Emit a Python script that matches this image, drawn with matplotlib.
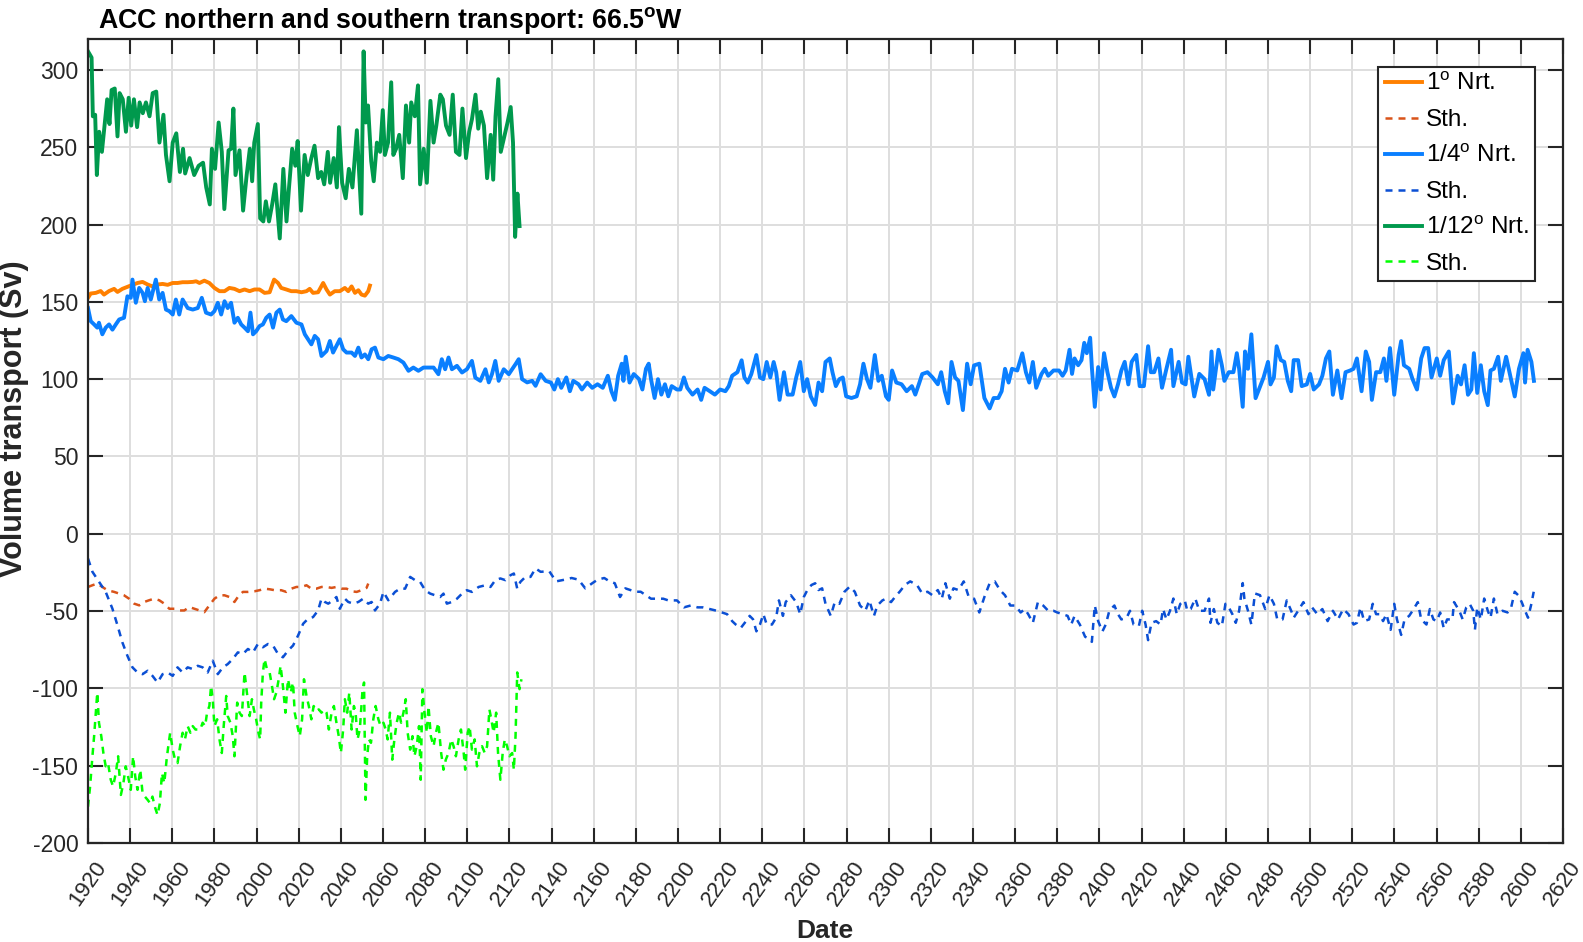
import matplotlib
matplotlib.use('Agg')
import matplotlib.pyplot as plt

plt.rcParams['font.family'] = ['Liberation Sans', 'DejaVu Sans']
plt.rcParams['mathtext.fontset'] = 'custom'
plt.rcParams['mathtext.rm'] = 'Liberation Sans'
plt.rcParams['mathtext.bf'] = 'Liberation Sans:bold'
plt.rcParams['mathtext.it'] = 'Liberation Sans:italic'
plt.rcParams['axes.unicode_minus'] = False

# ---------------- data (years, transport in Sv) ----------------
# 1 degree, northern transport
one_n_year = [1920.0, 1921.3, 1923.7, 1926.0, 1927.6, 1930.0, 1932.4, 1934.0, 1936.3, 1938.7,
              1941.1, 1943.5, 1945.9, 1948.3, 1950.6, 1953.0, 1955.4, 1957.8, 1960.2, 1962.5,
              1964.9, 1967.3, 1969.7, 1971.3, 1972.9, 1975.2, 1977.6, 1980.0, 1982.4, 1984.8,
              1987.1, 1989.5, 1991.9, 1994.3, 1996.7, 1999.0, 2001.4, 2003.8, 2006.2, 2008.3,
              2010.2, 2011.7, 2014.1, 2016.5, 2018.9, 2021.3, 2023.7, 2025.2, 2026.8, 2029.2,
              2031.6, 2033.2, 2034.8, 2037.1, 2039.5, 2041.9, 2043.5, 2045.1, 2046.7, 2048.3,
              2049.8, 2051.4, 2053.0, 2053.8]
one_n_sv = [152.6, 155.4, 155.8, 157, 154.7, 157, 158.4, 156.4, 158.4, 159.7,
            161, 162.2, 162.9, 161.2, 160, 161.2, 161.6, 161, 162.2, 162.2,
            162.7, 162.7, 162.9, 163.3, 162.2, 163.7, 162.2, 159, 156.9, 156.9,
            159, 158.4, 156.9, 158, 156.9, 158, 158, 155.8, 156.2, 164.4,
            162.2, 159, 158, 156.9, 156.9, 156.2, 156.9, 158.4, 155.8, 156.2,
            162.2, 158, 154.7, 156.9, 156.9, 159, 156.9, 160, 155.8, 157.5,
            154.7, 154, 156.9, 160.5]

# 1 degree, southern transport
one_s_year = [1920.0, 1922.1, 1924.4, 1926.8, 1929.2, 1932.4, 1934.8, 1937.1, 1939.5, 1941.9,
              1944.3, 1946.7, 1949.0, 1951.4, 1953.8, 1956.2, 1958.6, 1961.0, 1963.3, 1965.7,
              1968.1, 1970.5, 1972.9, 1975.2, 1977.6, 1980.0, 1982.4, 1984.8, 1987.1, 1989.5,
              1991.1, 1993.5, 1995.9, 1999.0, 2001.4, 2003.8, 2006.2, 2008.6, 2011.7, 2014.1,
              2016.5, 2018.9, 2021.3, 2023.7, 2026.0, 2028.4, 2030.8, 2033.2, 2035.6, 2037.9,
              2040.3, 2042.7, 2045.1, 2047.5, 2049.8, 2052.2, 2053.0]
one_s_sv = [-34.4, -33.3, -32.2, -34.4, -36.5, -37.6, -38.7, -39.8, -42, -45.2,
            -46.3, -44.1, -43, -42, -43, -45.2, -48.5, -48.5, -49.6, -49.6,
            -47.4, -48.5, -49.6, -50.7, -46.3, -42, -39.8, -39.8, -40.9, -44.1,
            -40.9, -37.6, -37.6, -37.2, -36.5, -35.5, -35.9, -36.5, -36.5, -37.6,
            -35.5, -34.4, -34.4, -33.3, -35.5, -35.5, -34.4, -34.4, -35, -34.4,
            -35.5, -35.5, -37.2, -37.6, -36.5, -35, -32.2]

# 1/4 degree, northern transport
quarter_n_year = [
    1920.0, 1921.3, 1922.9, 1924.4, 1925.2, 1926.8, 1928.4, 1930.0, 1931.6, 1933.2,
    1934.8, 1937.1, 1938.7, 1940.3, 1941.1, 1942.7, 1944.3, 1945.9, 1947.0, 1948.3,
    1949.8, 1951.4, 1952.2, 1953.8, 1955.4, 1957.0, 1958.6, 1960.2, 1961.7, 1963.3,
    1964.9, 1967.3, 1969.7, 1972.1, 1974.0, 1976.0, 1978.4, 1980.0, 1981.6, 1983.2,
    1984.8, 1986.3, 1987.9, 1989.5, 1991.1, 1992.7, 1994.3, 1995.9, 1997.1, 1998.3,
    1999.8, 2001.4, 2003.0, 2004.6, 2006.2, 2007.8, 2009.4, 2011.0, 2012.5, 2014.1,
    2016.5, 2018.9, 2021.3, 2022.9, 2024.4, 2026.0, 2027.6, 2029.2, 2030.8, 2033.2,
    2034.8, 2036.3, 2037.9, 2039.5, 2041.1, 2042.7, 2045.1, 2046.7, 2048.3, 2049.8,
    2051.4, 2053.0, 2054.6, 2056.2, 2057.8, 2060.2, 2062.5, 2064.9, 2067.3, 2069.7,
    2072.1, 2074.4, 2076.8, 2079.2, 2081.6, 2084.0, 2086.3, 2087.9, 2089.5, 2091.1,
    2092.7, 2095.1, 2097.5, 2099.8, 2102.2, 2103.8, 2106.2, 2108.6, 2110.2, 2111.7,
    2113.3, 2114.9, 2117.3, 2119.7, 2121.3, 2122.9, 2124.4, 2126.0, 2128.4, 2130.8,
    2132.4, 2134.8, 2137.2, 2139.7, 2141.3, 2143.0, 2144.6, 2147.0, 2148.7, 2150.3,
    2152.8, 2154.4, 2156.9, 2159.3, 2161.8, 2164.3, 2166.7, 2168.4, 2170.0, 2171.6,
    2173.3, 2174.1, 2175.2, 2177.0, 2179.0, 2181.5, 2183.1, 2184.8, 2186.1, 2187.2,
    2188.9, 2190.5, 2192.1, 2193.8, 2195.4, 2197.0, 2199.5, 2201.1, 2202.8, 2204.4,
    2206.9, 2209.3, 2211.0, 2212.6, 2215.1, 2217.5, 2220.0, 2222.5, 2224.1, 2225.7,
    2228.2, 2230.2, 2231.5, 2233.1, 2234.8, 2237.2, 2238.9, 2240.5, 2242.1, 2243.8,
    2245.4, 2246.6, 2248.2, 2250.3, 2252.0, 2254.4, 2256.1, 2258.0, 2259.7, 2261.3,
    2263.0, 2265.1, 2266.7, 2268.4, 2270.0, 2272.0, 2273.3, 2274.9, 2276.6, 2278.2,
    2279.8, 2282.3, 2284.8, 2286.4, 2288.0, 2289.7, 2291.3, 2293.4, 2295.1, 2296.7,
    2298.7, 2300.0, 2301.6, 2303.6, 2306.1, 2308.5, 2311.0, 2312.6, 2314.3, 2315.9,
    2318.4, 2320.8, 2323.3, 2324.9, 2326.6, 2328.2, 2329.8, 2331.5, 2333.1, 2335.2,
    2337.2, 2338.9, 2340.5, 2343.0, 2345.4, 2347.9, 2349.8, 2352.0, 2353.6, 2355.2,
    2356.9, 2358.5, 2361.0, 2363.4, 2365.1, 2366.7, 2368.4, 2370.0, 2372.5, 2374.1,
    2375.7, 2378.2, 2380.8, 2382.5, 2384.0, 2385.8, 2387.0, 2388.2, 2389.9, 2391.5,
    2392.8, 2394.0, 2395.6, 2396.4, 2397.8, 2399.4, 2400.6, 2402.2, 2403.8, 2405.5,
    2407.1, 2408.8, 2410.4, 2412.0, 2413.7, 2415.3, 2417.5, 2419.1, 2421.1, 2423.1,
    2424.4, 2426.0, 2428.0, 2429.7, 2431.8, 2434.0, 2435.1, 2437.6, 2439.2, 2440.9,
    2442.2, 2445.0, 2447.4, 2449.9, 2452.0, 2453.2, 2454.0, 2456.5, 2458.1, 2459.3,
    2461.4, 2463.6, 2465.2, 2466.3, 2468.0, 2469.1, 2470.5, 2472.1, 2474.1, 2475.7,
    2477.9, 2480.0, 2481.2, 2482.8, 2484.1, 2486.1, 2487.7, 2489.4, 2491.0, 2492.2,
    2494.3, 2496.0, 2498.4, 2500.0, 2501.7, 2504.2, 2505.8, 2507.5, 2509.1, 2510.8,
    2512.9, 2514.9, 2516.8, 2519.0, 2520.6, 2522.2, 2524.4, 2526.4, 2528.0, 2529.3,
    2531.3, 2533.3, 2535.0, 2536.2, 2537.9, 2539.9, 2542.0, 2543.2, 2544.5, 2547.0,
    2548.6, 2550.7, 2552.7, 2554.3, 2556.0, 2557.6, 2560.1, 2561.7, 2563.4, 2565.8,
    2567.8, 2570.0, 2571.6, 2573.3, 2574.9, 2576.5, 2577.7, 2579.3, 2581.0, 2582.6,
    2584.3, 2585.6, 2587.2, 2589.2, 2590.5, 2593.0, 2595.5, 2597.1, 2599.1, 2601.2,
    2602.0, 2603.2, 2605.0, 2606.2]
quarter_n_sv = [
    146, 137.5, 135.4, 133.3, 136.5, 129, 133.3, 135.4, 132, 135.4,
    138.6, 139.7, 153.6, 152.6, 164.4, 149.4, 159, 155.8, 150.4, 159,
    151.5, 160, 164.4, 151.5, 155.8, 145, 144, 141.8, 151.5, 141.8,
    151.5, 146, 145, 146, 152.6, 143, 141.8, 144, 149.4, 141.8,
    150.4, 146, 149.4, 136.5, 139.7, 135.4, 133.3, 131, 143, 129,
    131, 134.3, 135.4, 139.7, 141.8, 133.3, 143, 145, 138.6, 137.5,
    140.8, 136.5, 135.4, 129, 125.8, 122.5, 128, 125.8, 115, 118.2,
    124.7, 117.2, 121.5, 125.8, 119.3, 117.2, 117.2, 115, 120.4, 114,
    116, 112.9, 119.3, 120.4, 114, 112.9, 115, 114, 112.9, 110.7,
    105.4, 107.5, 105.4, 107.5, 107.5, 107.5, 103.2, 112.9, 106.4, 114,
    106.4, 108.6, 104.3, 106.4, 111.8, 101, 98.9, 106.4, 97.9, 103.2,
    111.8, 98.9, 106.4, 103.2, 106.4, 109.7, 112.9, 100, 97.9, 98.9,
    95.7, 103.2, 98.9, 97.8, 93.3, 100, 94.4, 101.1, 92.2, 98.9,
    96.7, 93.3, 97.8, 94.4, 96.7, 94.4, 102.2, 92.2, 86.6, 102.2,
    110, 98.9, 114.5, 97.8, 103.3, 100, 93.3, 106.7, 110, 100,
    87.8, 100, 90, 96.7, 88.9, 95.5, 93.3, 93.3, 101.1, 94.4,
    90, 93.3, 86.6, 94.4, 92.2, 90, 93.3, 92.2, 95.5, 102.2,
    104.5, 112.2, 101.1, 97.8, 103.3, 115.6, 101.1, 100, 111.1, 101.1,
    111.1, 104.5, 86.6, 104.5, 90, 90, 101.1, 111.1, 92.2, 100,
    88.9, 83.3, 97.8, 92.2, 111.1, 113.4, 104.5, 95.5, 100, 101.1,
    88.9, 87.8, 88.9, 96.7, 110, 100, 94.4, 115.6, 98.9, 102.2,
    88.9, 86.6, 105.6, 97.8, 96.7, 92.2, 95.5, 90, 96.7, 103.3,
    104.5, 101.1, 96.7, 104.5, 92.2, 84.4, 111.1, 101.1, 98.9, 80,
    110, 96.7, 108.9, 110, 87.8, 81.1, 87.8, 87.8, 92.2, 106.7,
    97.8, 106.7, 105.6, 116.7, 104.5, 97.8, 111.1, 94.4, 103.3, 106.7,
    102.2, 105.6, 105.6, 102.2, 105.6, 119, 103.4, 113.4, 109, 112.3,
    123.5, 116.8, 126.8, 107.8, 82.1, 107.8, 93.3, 116.8, 104.5, 94.4,
    88.8, 96.6, 105.6, 111.2, 96.6, 111.2, 115.7, 95.5, 95.5, 121.3,
    104.5, 104.5, 113.4, 94.4, 106.7, 119, 95.5, 111.2, 97.8, 96.6,
    114.5, 88.8, 103.4, 100, 89.9, 117.9, 93.3, 119, 109, 98.9,
    104.5, 104.5, 116.8, 106.7, 82.1, 117.9, 106.7, 129, 87.7, 93.3,
    101.1, 111.2, 96.6, 101.1, 121.3, 112.3, 111.2, 98.9, 92.2, 112.3,
    112.3, 95.5, 96.6, 103.4, 93.3, 96.6, 102.2, 113.4, 117.9, 89.9,
    105.6, 87.7, 104.5, 105.6, 106.7, 113.4, 92.2, 117.9, 111.2, 86.6,
    104.5, 104.5, 113.4, 98.9, 120.1, 89.9, 115.7, 124.6, 109, 106.7,
    100, 93.3, 113.4, 120.1, 120.1, 101.1, 113.4, 102.2, 112.3, 117.9,
    84.3, 102.2, 96.6, 109, 89.9, 93.3, 116.8, 91.1, 109, 92.2,
    83.2, 105.6, 106.7, 114.5, 98.9, 114.5, 98.9, 88.8, 106.7, 116.8,
    97.8, 119, 111.2, 98.9]

# 1/4 degree, southern transport
quarter_s_year = [
    1920.0, 1922.1, 1925.2, 1928.4, 1931.6, 1934.0, 1936.3, 1938.7, 1941.1, 1943.5,
    1945.9, 1948.3, 1950.6, 1953.0, 1955.4, 1957.8, 1960.2, 1962.5, 1964.9, 1967.3,
    1969.7, 1972.1, 1974.4, 1976.8, 1979.2, 1981.6, 1984.0, 1986.3, 1988.7, 1991.1,
    1993.5, 1995.9, 1998.3, 2000.6, 2003.0, 2005.4, 2007.8, 2010.2, 2012.5, 2014.9,
    2017.3, 2019.7, 2022.1, 2024.4, 2026.8, 2029.2, 2030.8, 2032.4, 2034.0, 2036.3,
    2037.9, 2039.5, 2041.9, 2043.5, 2045.9, 2048.3, 2050.6, 2053.0, 2054.6, 2056.2,
    2058.6, 2060.2, 2062.5, 2065.7, 2068.1, 2070.5, 2072.9, 2075.2, 2077.6, 2080.0,
    2082.4, 2084.8, 2087.1, 2088.7, 2090.3, 2092.7, 2095.1, 2097.5, 2099.8, 2102.2,
    2105.4, 2108.6, 2111.0, 2113.3, 2115.7, 2118.1, 2120.5, 2122.1, 2123.7, 2125.2,
    2127.6, 2130.0, 2132.4, 2134.8, 2138.9, 2142.1, 2146.2, 2149.5, 2152.8, 2156.0,
    2159.3, 2161.8, 2165.0, 2167.5, 2170.0, 2172.5, 2175.0, 2177.4, 2179.8, 2182.3,
    2184.8, 2187.2, 2189.7, 2193.0, 2195.4, 2199.5, 2202.8, 2206.0, 2209.3, 2211.8,
    2215.0, 2218.4, 2220.8, 2223.3, 2225.7, 2227.4, 2229.8, 2232.3, 2234.0, 2235.6,
    2237.2, 2238.9, 2240.5, 2242.1, 2244.6, 2246.6, 2247.9, 2249.8, 2251.1, 2253.6,
    2256.1, 2258.0, 2259.7, 2261.8, 2263.4, 2265.1, 2266.7, 2268.4, 2270.0, 2272.5,
    2274.4, 2276.6, 2279.0, 2281.5, 2283.9, 2286.4, 2288.9, 2290.8, 2293.0, 2294.6,
    2297.0, 2298.7, 2301.1, 2303.6, 2305.2, 2307.7, 2310.2, 2313.4, 2315.9, 2318.4,
    2320.8, 2323.3, 2325.2, 2326.9, 2329.0, 2330.7, 2333.1, 2335.6, 2338.0, 2340.5,
    2343.0, 2345.4, 2347.9, 2350.3, 2352.8, 2355.2, 2357.7, 2360.2, 2362.6, 2364.6,
    2366.2, 2368.4, 2370.8, 2373.3, 2375.7, 2378.2, 2380.0, 2382.5, 2384.9, 2386.6,
    2388.2, 2390.7, 2393.2, 2394.8, 2396.4, 2397.8, 2399.4, 2401.4, 2403.0, 2404.7,
    2407.1, 2408.8, 2410.4, 2412.9, 2414.5, 2416.2, 2418.7, 2420.3, 2421.9, 2423.1,
    2424.7, 2426.9, 2429.0, 2430.2, 2431.8, 2433.5, 2435.1, 2436.7, 2438.4, 2440.5,
    2441.7, 2443.3, 2445.5, 2447.4, 2449.9, 2452.0, 2452.7, 2454.3, 2456.0, 2458.1,
    2459.8, 2461.4, 2463.1, 2464.7, 2466.3, 2468.0, 2468.8, 2470.5, 2472.1, 2473.8,
    2476.2, 2478.7, 2480.7, 2482.8, 2484.4, 2486.9, 2488.9, 2491.0, 2492.2, 2494.3,
    2496.8, 2499.2, 2500.9, 2503.4, 2505.8, 2508.3, 2510.8, 2513.2, 2515.7, 2518.2,
    2520.6, 2522.2, 2523.9, 2525.6, 2528.0, 2529.7, 2531.3, 2533.0, 2534.6, 2536.2,
    2538.2, 2539.9, 2541.2, 2543.2, 2544.8, 2547.0, 2548.6, 2551.1, 2552.7, 2555.2,
    2556.8, 2558.5, 2560.1, 2561.7, 2563.4, 2565.0, 2567.5, 2568.3, 2570.8, 2572.4,
    2574.1, 2575.7, 2577.4, 2578.2, 2579.3, 2581.0, 2582.6, 2584.3, 2585.6, 2587.2,
    2588.9, 2591.3, 2593.7, 2595.4, 2597.1, 2598.7, 2600.4, 2602.0, 2603.4, 2605.0,
    2606.1]
quarter_s_sv = [
    -16, -24.6, -31, -37.6, -48.5, -59.3, -70.2, -78.9, -86.4, -89.7,
    -90.8, -88.6, -91.9, -96.2, -90.8, -89.7, -91.9, -86.4, -89.7, -86.4,
    -87.5, -85.4, -86.4, -89.7, -82.1, -90.8, -86.4, -84.3, -81, -76.7,
    -77.8, -74.5, -76.7, -71.3, -73.4, -71.3, -72.3, -77.8, -79.9, -75.6,
    -72.3, -65.8, -58.2, -55, -53.9, -49.6, -42, -44.1, -45.2, -43,
    -40.9, -48.5, -42, -44.1, -45.2, -44.1, -42, -45.2, -44.1, -49.6,
    -45.2, -37.6, -43, -37.6, -35.5, -35.5, -27.9, -30, -31.1, -36.5,
    -38.7, -39.8, -40.9, -38.7, -45.2, -44.1, -42, -38.7, -36.5, -37.6,
    -34.4, -33.3, -34.4, -30, -28.9, -30, -26.8, -25.7, -35.5, -31.1,
    -27.9, -27.9, -22.4, -24.6, -24.2, -30.8, -29.7, -28.6, -29.7, -35.3,
    -32, -29.7, -28.6, -30.8, -32, -40.9, -35.3, -36.4, -37.5, -37.5,
    -39.8, -42, -42, -42, -43.1, -43.1, -47.6, -46.4, -47.6, -47.6,
    -48.7, -49.8, -50.9, -52, -56.5, -58.7, -60.9, -56.5, -53.1, -55.3,
    -63.1, -58.7, -52, -58.7, -58.7, -54.2, -43.1, -53.1, -44.2, -39.8,
    -44.2, -52, -40.9, -35.3, -33.1, -32, -36.4, -35.3, -45.3, -53.1,
    -44.2, -45.3, -37.5, -34.2, -37.5, -46.4, -49.8, -43.1, -53.1, -46.4,
    -43.1, -42, -44.2, -39.8, -37.5, -33.1, -30.8, -33.1, -38.6, -37.5,
    -39.8, -36.4, -42, -32, -42, -35.3, -36.4, -30.8, -40.9, -42,
    -50.9, -40.9, -32, -30.8, -36.4, -39.8, -46.4, -46.4, -50.9, -48.7,
    -52, -57.6, -44.2, -46.4, -49.8, -49.8, -50.9, -52, -53.1, -58.7,
    -53.1, -58.7, -66.6, -67.7, -69.9, -46.4, -56.5, -63.2, -58.7, -49.8,
    -46.4, -52, -55.4, -54.3, -49.8, -58.7, -59.8, -49.8, -58.7, -68.8,
    -57.6, -56.5, -58.7, -48.7, -55.4, -49.8, -41.9, -52, -45.3, -43.1,
    -49.8, -48.7, -41.9, -49.8, -49.8, -41.9, -57.6, -48.7, -57.6, -59.8,
    -45.3, -47.6, -52, -57.6, -49.8, -31.9, -41.9, -49.8, -58.7, -38.6,
    -39.7, -48.7, -39.7, -45.3, -55.4, -55.4, -43.1, -49.8, -54.3, -49.8,
    -44.2, -52, -47.6, -52, -48.7, -56.5, -49.8, -55.4, -48.7, -52,
    -58.7, -57.6, -47.6, -56.5, -55.4, -45.3, -52, -52, -56.5, -52,
    -62.1, -45.3, -55.4, -65.4, -55.4, -53.1, -49.8, -44.2, -55.4, -58.7,
    -48.7, -55.4, -56.5, -50.9, -61, -55.4, -55.4, -44.2, -49.8, -55.4,
    -47.6, -45.3, -49.8, -62.1, -47.6, -55.4, -41.9, -49.8, -54.3, -41.9,
    -52, -49.8, -50.9, -47.6, -37.5, -39.7, -44.2, -49.8, -54.3, -45.3,
    -37.5]

# 1/12 degree, northern transport
twelfth_n_year = [
    1920.0, 1921.7, 1922.3, 1923.4, 1924.2, 1925.3, 1926.6, 1928.0, 1929.1, 1930.2,
    1931.2, 1932.7, 1934.0, 1935.0, 1936.5, 1938.0, 1939.3, 1940.5, 1941.8, 1943.3,
    1944.5, 1946.0, 1947.5, 1949.2, 1950.7, 1952.4, 1953.9, 1955.8, 1957.0, 1958.7,
    1960.2, 1961.9, 1963.6, 1965.1, 1966.1, 1968.2, 1970.4, 1972.5, 1974.6, 1976.1,
    1977.8, 1978.8, 1980.3, 1982.0, 1983.5, 1984.7, 1986.7, 1987.9, 1989.0, 1990.0,
    1991.9, 1993.6, 1995.3, 1996.8, 1997.9, 1998.9, 2000.6, 2001.7, 2003.2, 2004.4,
    2005.9, 2007.4, 2008.9, 2011.0, 2012.7, 2014.2, 2015.4, 2016.9, 2018.4, 2019.5,
    2021.1, 2022.8, 2024.3, 2026.0, 2027.5, 2029.2, 2030.7, 2032.1, 2033.8, 2034.9,
    2036.6, 2038.1, 2039.1, 2040.6, 2042.3, 2043.8, 2045.5, 2047.6, 2049.7, 2050.8,
    2051.8, 2052.9, 2054.4, 2055.6, 2057.1, 2058.6, 2059.9, 2060.9, 2062.4, 2063.9,
    2064.9, 2066.2, 2067.7, 2069.4, 2070.9, 2072.4, 2073.4, 2075.1, 2076.6, 2077.6,
    2079.3, 2080.8, 2082.5, 2084.0, 2085.3, 2087.2, 2088.4, 2089.9, 2091.6, 2093.1,
    2094.6, 2096.3, 2097.7, 2099.4, 2100.9, 2102.2, 2103.9, 2105.2, 2106.4, 2107.9,
    2109.4, 2111.1, 2112.3, 2113.4, 2114.7, 2115.9, 2117.4, 2119.1, 2120.6, 2121.7,
    2122.7, 2123.8, 2124.8]
twelfth_n_sv = [
    312, 308, 270, 271, 232, 260, 247, 266, 281, 265,
    287, 288, 257, 285, 281, 260, 282, 264, 281, 263,
    279, 272, 279, 270, 285, 286, 253, 271, 245, 228,
    253, 259, 234, 249, 233, 243, 232, 238, 240, 224,
    213, 249, 236, 266, 247, 210, 248, 249, 275, 232,
    248, 209, 232, 249, 228, 253, 265, 204, 202, 215,
    202, 213, 226, 191, 236, 202, 224, 249, 238, 254,
    209, 245, 232, 243, 251, 230, 234, 226, 247, 227,
    243, 224, 263, 227, 217, 236, 224, 261, 207, 312,
    266, 277, 241, 228, 253, 247, 274, 245, 253, 292,
    245, 249, 258, 230, 277, 253, 279, 270, 290, 226,
    249, 227, 280, 253, 264, 284, 281, 264, 258, 284,
    247, 245, 275, 243, 260, 268, 284, 262, 273, 264,
    230, 258, 229, 270, 294, 247, 256, 266, 276, 253,
    192, 220, 199]

# 1/12 degree, southern transport
twelfth_s_year = [
    1920.0, 1921.0, 1922.1, 1922.9, 1923.7, 1924.4, 1925.2, 1926.3, 1927.3, 1928.4,
    1929.5, 1930.8, 1931.9, 1933.2, 1934.3, 1935.6, 1936.8, 1937.9, 1939.0, 1940.3,
    1941.4, 1942.4, 1943.5, 1944.8, 1945.9, 1947.0, 1948.3, 1949.5, 1950.6, 1951.7,
    1953.0, 1954.1, 1955.1, 1956.2, 1957.3, 1958.1, 1959.0, 1960.2, 1961.3, 1962.5,
    1963.7, 1964.9, 1966.0, 1967.3, 1968.6, 1969.7, 1971.0, 1972.1, 1973.3, 1974.4,
    1975.6, 1976.5, 1977.6, 1978.4, 1979.2, 1980.0, 1981.3, 1982.4, 1983.5, 1984.4,
    1985.6, 1986.3, 1987.6, 1988.7, 1989.5, 1990.8, 1991.9, 1993.0, 1994.3, 1995.4,
    1996.7, 1997.8, 1998.7, 1999.8, 2000.9, 2001.7, 2002.2, 2003.0, 2003.8, 2004.9,
    2006.2, 2007.3, 2008.3, 2009.4, 2010.5, 2011.4, 2012.5, 2013.7, 2014.9, 2016.2,
    2017.3, 2018.1, 2019.4, 2020.5, 2021.6, 2022.5, 2023.7, 2024.8, 2026.0, 2027.1,
    2028.4, 2029.5, 2030.8, 2032.1, 2033.2, 2034.3, 2035.6, 2036.7, 2037.9, 2039.0,
    2040.0, 2041.1, 2041.9, 2043.0, 2044.0, 2045.1, 2046.2, 2047.0, 2047.9, 2049.0,
    2050.2, 2051.0, 2051.7, 2052.5, 2053.3, 2054.3, 2055.4, 2056.5, 2057.8, 2058.9,
    2060.2, 2061.3, 2062.2, 2063.3, 2064.4, 2065.4, 2066.5, 2067.6, 2068.6, 2069.7,
    2070.8, 2071.7, 2072.9, 2074.0, 2074.9, 2076.0, 2077.1, 2077.9, 2078.7, 2079.7,
    2080.8, 2081.6, 2082.7, 2084.0, 2085.1, 2086.3, 2087.6, 2088.7, 2089.8, 2091.1,
    2092.4, 2093.5, 2094.6, 2095.9, 2097.0, 2098.3, 2099.0, 2100.2, 2101.1, 2102.2,
    2103.5, 2104.6, 2105.7, 2107.0, 2108.3, 2109.4, 2110.5, 2111.4, 2112.5, 2113.7,
    2114.6, 2115.7, 2116.8, 2117.8, 2118.9, 2120.0, 2121.3, 2122.1, 2122.9, 2123.7,
    2124.8, 2125.7]
twelfth_s_sv = [
    -176.5, -163.4, -143.9, -130.9, -115.7, -102.7, -122.2, -130.9, -141.8, -150.4,
    -148.3, -159.1, -163.4, -154.8, -143.9, -168.9, -161.3, -150.4, -156.9, -165.6,
    -143.9, -156.9, -165.6, -152.6, -167.8, -170, -172.1, -174.3, -170, -176.5,
    -181.9, -174.3, -154.8, -161.3, -146.1, -137.4, -128.7, -139.6, -146.1, -148.3,
    -137.4, -128.7, -133, -124.4, -128.7, -124.4, -126.6, -126.6, -126.6, -122.2,
    -124.4, -115.7, -111.4, -98.4, -107, -124.4, -120, -133, -141.8, -124.4,
    -104.9, -117.9, -122.2, -130.9, -143.9, -109.2, -115.7, -117.9, -89.7, -102.7,
    -117.9, -107, -113.6, -120, -128.7, -133, -109.2, -89.7, -81, -87.5,
    -89.7, -98.4, -107, -102.7, -94.1, -85.4, -98.4, -115.7, -94.1, -102.7,
    -96.2, -115.7, -124.4, -130.9, -120, -94.1, -104.9, -111.4, -120, -111.4,
    -114.6, -113.6, -115.7, -113.6, -115.7, -126.6, -115.7, -111.4, -122.2, -130.9,
    -141.8, -126.6, -107, -115.7, -102.7, -126.6, -111.4, -115.7, -133, -126.6,
    -102.7, -96.2, -172.1, -143.9, -133, -135.2, -120, -111.4, -120, -124.4,
    -122.2, -126.6, -133, -115.7, -146.1, -133, -122.2, -115.7, -122.2, -115.7,
    -107, -128.7, -139.6, -130.9, -143.9, -137.4, -124.4, -159.1, -100.5, -115.7,
    -128.7, -111.4, -130.9, -137.4, -128.7, -122.2, -141.8, -152.6, -146.1, -141.8,
    -133, -137.4, -143.9, -133, -126.6, -141.8, -152.6, -128.7, -124.4, -139.6,
    -133, -150.4, -141.8, -137.4, -141.8, -137.4, -113.6, -120, -128.7, -115.7,
    -141.8, -159.1, -141.8, -133, -137.4, -143.9, -141.8, -152.6, -130.9, -89.7,
    -100.5, -94.1]

x_ticks = list(range(1920, 2621, 20))
y_ticks = list(range(-200, 301, 50))

# ---------------- figure ----------------
W, H = 1583, 942
fig = plt.figure(figsize=(W / 100, H / 100), dpi=100)
ax = fig.add_axes([88 / W, 1 - 843 / H, 1475 / W, 804 / H])

dash = (0, (2.8, 2.4))
ax.plot(one_n_year, one_n_sv, color='#FF8000', lw=2.8, label=r'1$^{\mathrm{o}}$ Nrt.')
ax.plot(one_s_year, one_s_sv, color='#D95319', lw=1.8, ls=dash, label='Sth.')
ax.plot(quarter_n_year, quarter_n_sv, color='#0A7FFF', lw=2.8, label=r'1/4$^{\mathrm{o}}$ Nrt.')
ax.plot(quarter_s_year, quarter_s_sv, color='#0B4FD4', lw=1.8, ls=dash, label='Sth.')
ax.plot(twelfth_n_year, twelfth_n_sv, color='#00994D', lw=2.8, label=r'1/12$^{\mathrm{o}}$ Nrt.')
ax.plot(twelfth_s_year, twelfth_s_sv, color='#00FF00', lw=1.8, ls=dash, label='Sth.')

ax.set_xlim(1920, 2620)
ax.set_ylim(-200, 320)
ax.set_xticks(x_ticks)
ax.set_yticks(y_ticks)
ax.set_xticklabels([str(t) for t in x_ticks], rotation=55, ha='center', va='top')
ax.tick_params(direction='in', length=11, width=1.5, top=True, right=True,
               colors='#262626')
ax.tick_params(axis='y', labelsize=16.5, pad=7)
ax.tick_params(axis='x', labelsize=16, pad=10)
ax.grid(True, color='#DEDEDE', lw=1.4)
ax.set_axisbelow(True)
for s in ax.spines.values():
    s.set_linewidth(1.6)
    s.set_color('#262626')

leg = ax.legend(loc='upper right', bbox_to_anchor=((1535 - 88) / 1475, 1 - (67 - 39) / 804),
                borderaxespad=0, fontsize=17.5, handlelength=1.55, handletextpad=0.15,
                labelspacing=0.57, borderpad=0.25, fancybox=False, framealpha=1,
                edgecolor='#262626')
leg.get_frame().set_linewidth(1.5)

fig.text(98 / W, 1 - 20 / H, r'ACC northern and southern transport: 66.5$^{\mathbf{o}}$W',
         fontsize=19.3, fontweight='bold', ha='left', va='center')
fig.text(14 / W, 1 - 419 / H, 'Volume transport (Sv)', rotation=90, fontsize=22,
         fontweight='bold', ha='center', va='center', color='#262626')
fig.text(825 / W, 1 - 931 / H, 'Date', fontsize=19, fontweight='bold',
         ha='center', va='center', color='#262626')

fig.savefig('out.png', dpi=100)
